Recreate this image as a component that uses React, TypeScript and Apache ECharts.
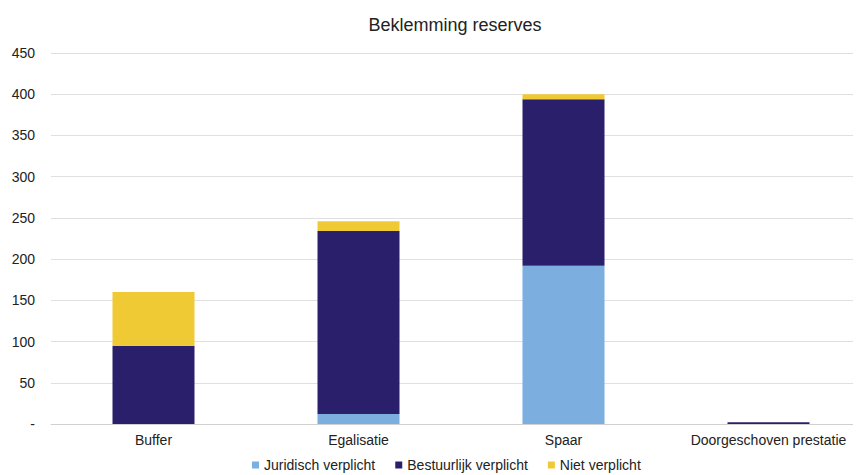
import React, { useEffect, useRef } from "react";
import * as echarts from "echarts";

const categories = ["Buffer", "Egalisatie", "Spaar", "Doorgeschoven prestatie"];
const juridisch = [0, 12, 192, 0];
const bestuurlijk = [95, 222, 202, 2];
const niet = [65, 12, 6, 0];
const yTicks = { min: 0, max: 450, interval: 50 };

export default function App() {
  const ref = useRef<HTMLDivElement>(null);
  useEffect(() => {
    if (!ref.current) return;
    const chart = echarts.init(ref.current, null, { renderer: "svg" });
    const font = "'Liberation Sans', Arial, sans-serif";
    chart.setOption({
      animation: false,
      title: {
        text: "Beklemming reserves",
        left: 442,
        textAlign: "center",
        top: 3,
        textStyle: { fontFamily: font, fontSize: 18, fontWeight: "normal", color: "#222" },
      },
      grid: { left: 43, right: -10, top: 45, bottom: 51, outerBoundsMode: "none" },
      legend: {
        top: 445,
        left: 239,
        icon: "rect",
        itemWidth: 7,
        itemHeight: 7,
        itemGap: 20,
        textStyle: { fontFamily: font, fontSize: 14, color: "#222" },
      },
      xAxis: {
        type: "category",
        data: categories,
        axisTick: { show: false },
        axisLine: { lineStyle: { color: "#d0d0d0" } },
        axisLabel: { fontFamily: font, fontSize: 14, color: "#222", margin: 9 },
      },
      yAxis: {
        type: "value",
        min: yTicks.min,
        max: yTicks.max,
        interval: yTicks.interval,
        axisLine: { show: false },
        axisTick: { show: false },
        splitLine: { lineStyle: { color: "#e0e0e0" } },
        axisLabel: {
          fontFamily: font,
          fontSize: 14,
          color: "#222",
          margin: 16,
          formatter: (v: number) => (v === 0 ? "-" : String(v)),
        },
      },
      series: [
        { name: "Juridisch verplicht", type: "bar", stack: "t", data: juridisch, barWidth: "40%", itemStyle: { color: "#7DAEE0" } },
        { name: "Bestuurlijk verplicht", type: "bar", stack: "t", data: bestuurlijk, itemStyle: { color: "#2A1F6B" } },
        { name: "Niet verplicht", type: "bar", stack: "t", data: niet, itemStyle: { color: "#F0CA35" } },
      ],
    });
    return () => chart.dispose();
  }, []);
  return <div ref={ref} style={{ width: 853, height: 467 }} />;
}
